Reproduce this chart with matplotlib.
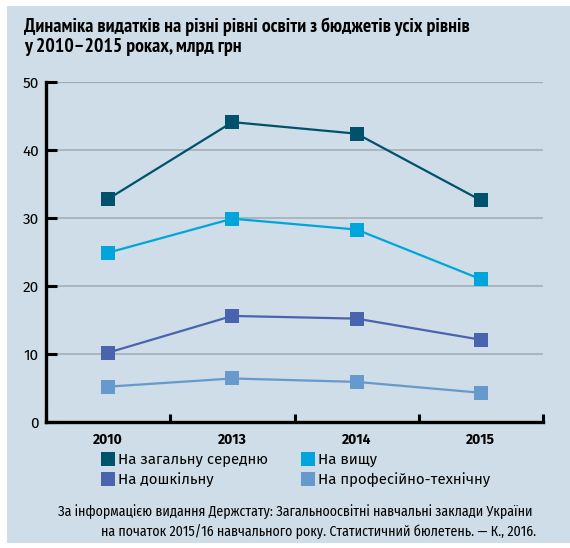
import matplotlib.pyplot as plt
from matplotlib.lines import Line2D
from matplotlib.patches import Rectangle

# data (billion UAH)
years = ["2010", "2013", "2014", "2015"]
general_secondary = [32.8, 44.1, 42.4, 32.6]
higher = [24.9, 29.9, 28.3, 21.0]
preschool = [10.2, 15.6, 15.2, 12.1]
vocational = [5.2, 6.4, 5.9, 4.3]

series_names = ["На загальну середню", "На вищу", "На дошкільну", "На професійно-технічну"]
series_colors = ["#00526c", "#00a5dc", "#4a63ae", "#6699cc"]
y_ticks = [0, 10, 20, 30, 40, 50]

title = "Динаміка видатків на різні рівні освіти з бюджетів усіх рівнів\nу 2010–2015 роках, млрд грн"
note1 = "За інформацією видання Держстату: Загальноосвітні навчальні заклади України"
note2 = "на початок 2015/16 навчального року. Статистичний бюлетень. — К., 2016."

W, H = 570, 548
bg = "#cedde7"
body_font = ["Fira Sans", "PT Sans", "Open Sans", "DejaVu Sans"]
narrow_font = ["Fira Sans Condensed", "PT Sans Narrow", "Roboto Condensed",
               "Liberation Sans Narrow", "DejaVu Sans"]
title_font = ["PT Sans Narrow", "Roboto Condensed", "Fira Sans Condensed",
              "Liberation Sans Narrow", "DejaVu Sans"]

fig = plt.figure(figsize=(W / 100, H / 100), dpi=100, facecolor="white")
fig.patches.append(Rectangle((7 / W, 5 / H), 1 - 7 / W, 1 - 11 / H,
                             transform=fig.transFigure, facecolor=bg,
                             edgecolor="none", zorder=-5))

ax = fig.add_axes([46 / W, 1 - 422 / H, (543 - 46) / W, (422 - 82) / H])
ax.set_facecolor(bg)
ax.patch.set_alpha(0)

xs = [i + 0.5 for i in range(len(years))]
all_series = [general_secondary, higher, preschool, vocational]
for vals, col in zip(all_series, series_colors):
    ax.plot(xs, vals, color=col, lw=1.6, marker="s", markersize=10,
            markeredgewidth=0, zorder=3, clip_on=False)

ax.set_xlim(0, len(years))
ax.set_ylim(0, 50)

# grid lines
for v in y_ticks[1:]:
    ax.axhline(v, color="#a1abb3", lw=1.6 if v == 50 else 1.1, zorder=1)

for s in ["top", "right"]:
    ax.spines[s].set_visible(False)
for s in ["left", "bottom"]:
    ax.spines[s].set_linewidth(2.4)
    ax.spines[s].set_color("black")

ax.set_yticks(y_ticks)
ax.set_yticklabels([str(v) for v in y_ticks], fontsize=11, family=body_font)
ax.tick_params(axis="y", direction="in", length=8, width=2.2, pad=5)

ax.set_xticks(range(len(years) + 1))
ax.set_xticklabels([])
ax.tick_params(axis="x", which="major", direction="in", length=6, width=2.2)
ax.set_xticks(xs, minor=True)
ax.set_xticklabels(years, minor=True, fontsize=10, fontweight="bold", family=body_font)
ax.tick_params(axis="x", which="minor", length=0, pad=8)

fig.text(24 / W, 1 - 17 / H, title, ha="left", va="top", fontsize=14.2,
         fontweight="bold", fontstyle="normal", family=title_font, linespacing=1.2)

handles = [Line2D([], [], ls="none", marker="s", markersize=10, markeredgewidth=0,
                  color=c) for c in series_colors]
order = [0, 2, 1, 3]
fig.legend([handles[i] for i in order], [series_names[i] for i in order],
           ncol=2, loc="upper left", bbox_to_anchor=(96 / W, 1 - 447 / H),
           frameon=False, handlelength=0.8, handletextpad=0.3,
           columnspacing=2.2, labelspacing=0.35, borderaxespad=0,
           prop={"family": body_font, "size": 10.8})

fig.text(58 / W, 1 - 512 / H, note1, ha="left", va="center", fontsize=10,
         family=narrow_font)
fig.text(101 / W, 1 - 532 / H, note2, ha="left", va="center", fontsize=10,
         family=narrow_font)

fig.savefig("out.png", dpi=100, facecolor="white")
